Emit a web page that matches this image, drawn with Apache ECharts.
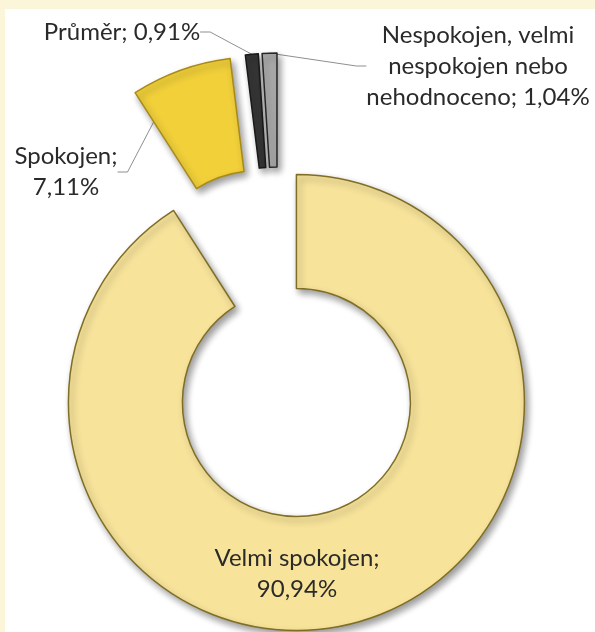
<!DOCTYPE html>
<html>
<head>
<meta charset="utf-8">
<script src="https://cdn.jsdelivr.net/npm/echarts@6/dist/echarts.min.js"></script>
<style>
  html, body { margin: 0; padding: 0; background: #fbf5d9; }
  #spokojenost {
    position: absolute;
    left: 5px;
    top: 9px;
    width: 590px;
    height: 623px;
    background: #ffffff;
  }
</style>
</head>
<body>
<div id="spokojenost"></div>
<script>
// kategorie a hodnoty (v procentech)
var categories = ['Velmi spokojen', 'Spokojen', 'Průměr', 'Nespokojen, velmi\nnespokojen nebo\nnehodnoceno']
var values = [90.94, 7.11, 0.91, 1.04]
// hodnota na novém řádku?
var valueOnNewLine = [true, true, false, false]

var fills = ['#f7e39a', '#f1d03a', '#363636', '#ababab']
var borders = ['#7f6e24', '#a88a16', '#1a1a1a', '#262626']

// pozice popisků (střed textu, v souřadnicích grafu)
var labelPos = [
  [292, 565],
  [61, 163],
  [117, 23],
  [473, 57],
]

var center = [274, 334]
var explode = 62

function fmt(v) {
  return v.toFixed(2).replace('.', ',') + '%'
}

var total = values.reduce(function (a, b) { return a + b }, 0)
var hidden = { color: 'rgba(0,0,0,0)', borderWidth: 0, shadowBlur: 0 }

// každý dílek ve vlastní sérii, posunutý po své ose (jako "explosion" v Excelu)
var series = []
var cum = 0
values.forEach(function (v, i) {
  var mid = ((cum + v / 2) / total) * 2 * Math.PI
  cum += v
  var cx = center[0] + explode * Math.sin(mid)
  var cy = center[1] - explode * Math.cos(mid)
  series.push({
    type: 'pie',
    center: [cx, cy],
    radius: [114, 228],
    startAngle: 90,
    clockwise: true,
    avoidLabelOverlap: false,
    silent: true,
    data: values.map(function (w, j) {
      var own = j === i
      return {
        name: categories[j],
        value: w,
        itemStyle: own
          ? {
              color: fills[j],
              borderColor: borders[j],
              borderWidth: 1.5,
              shadowBlur: 7,
              shadowOffsetX: 3,
              shadowOffsetY: 4,
              shadowColor: 'rgba(0,0,0,0.4)',
            }
          : hidden,
        label: { show: own },
        labelLine: { show: own && j !== 0 },
      }
    }),
    label: {
      position: 'outside',
      color: '#2a2a2a',
      fontFamily: 'Lato',
      fontSize: 24,
      lineHeight: 31,
      align: 'center',
      formatter: function (p) {
        var k = p.dataIndex
        return categories[k] + ';' + (valueOnNewLine[k] ? '\n' : ' ') + fmt(values[k])
      },
    },
    labelLine: {
      length: 20,
      length2: 10,
      lineStyle: { color: '#8f8f8f', width: 1 },
    },
    labelLayout: function (params) {
      var p = labelPos[params.dataIndex]
      return {
        x: p[0],
        y: p[1],
        align: 'center',
        verticalAlign: 'middle',
      }
    },
  })
})

var myChart = echarts.init(document.getElementById('spokojenost'))
myChart.setOption({
  animation: false,
  series: series,
})
</script>
</body>
</html>
